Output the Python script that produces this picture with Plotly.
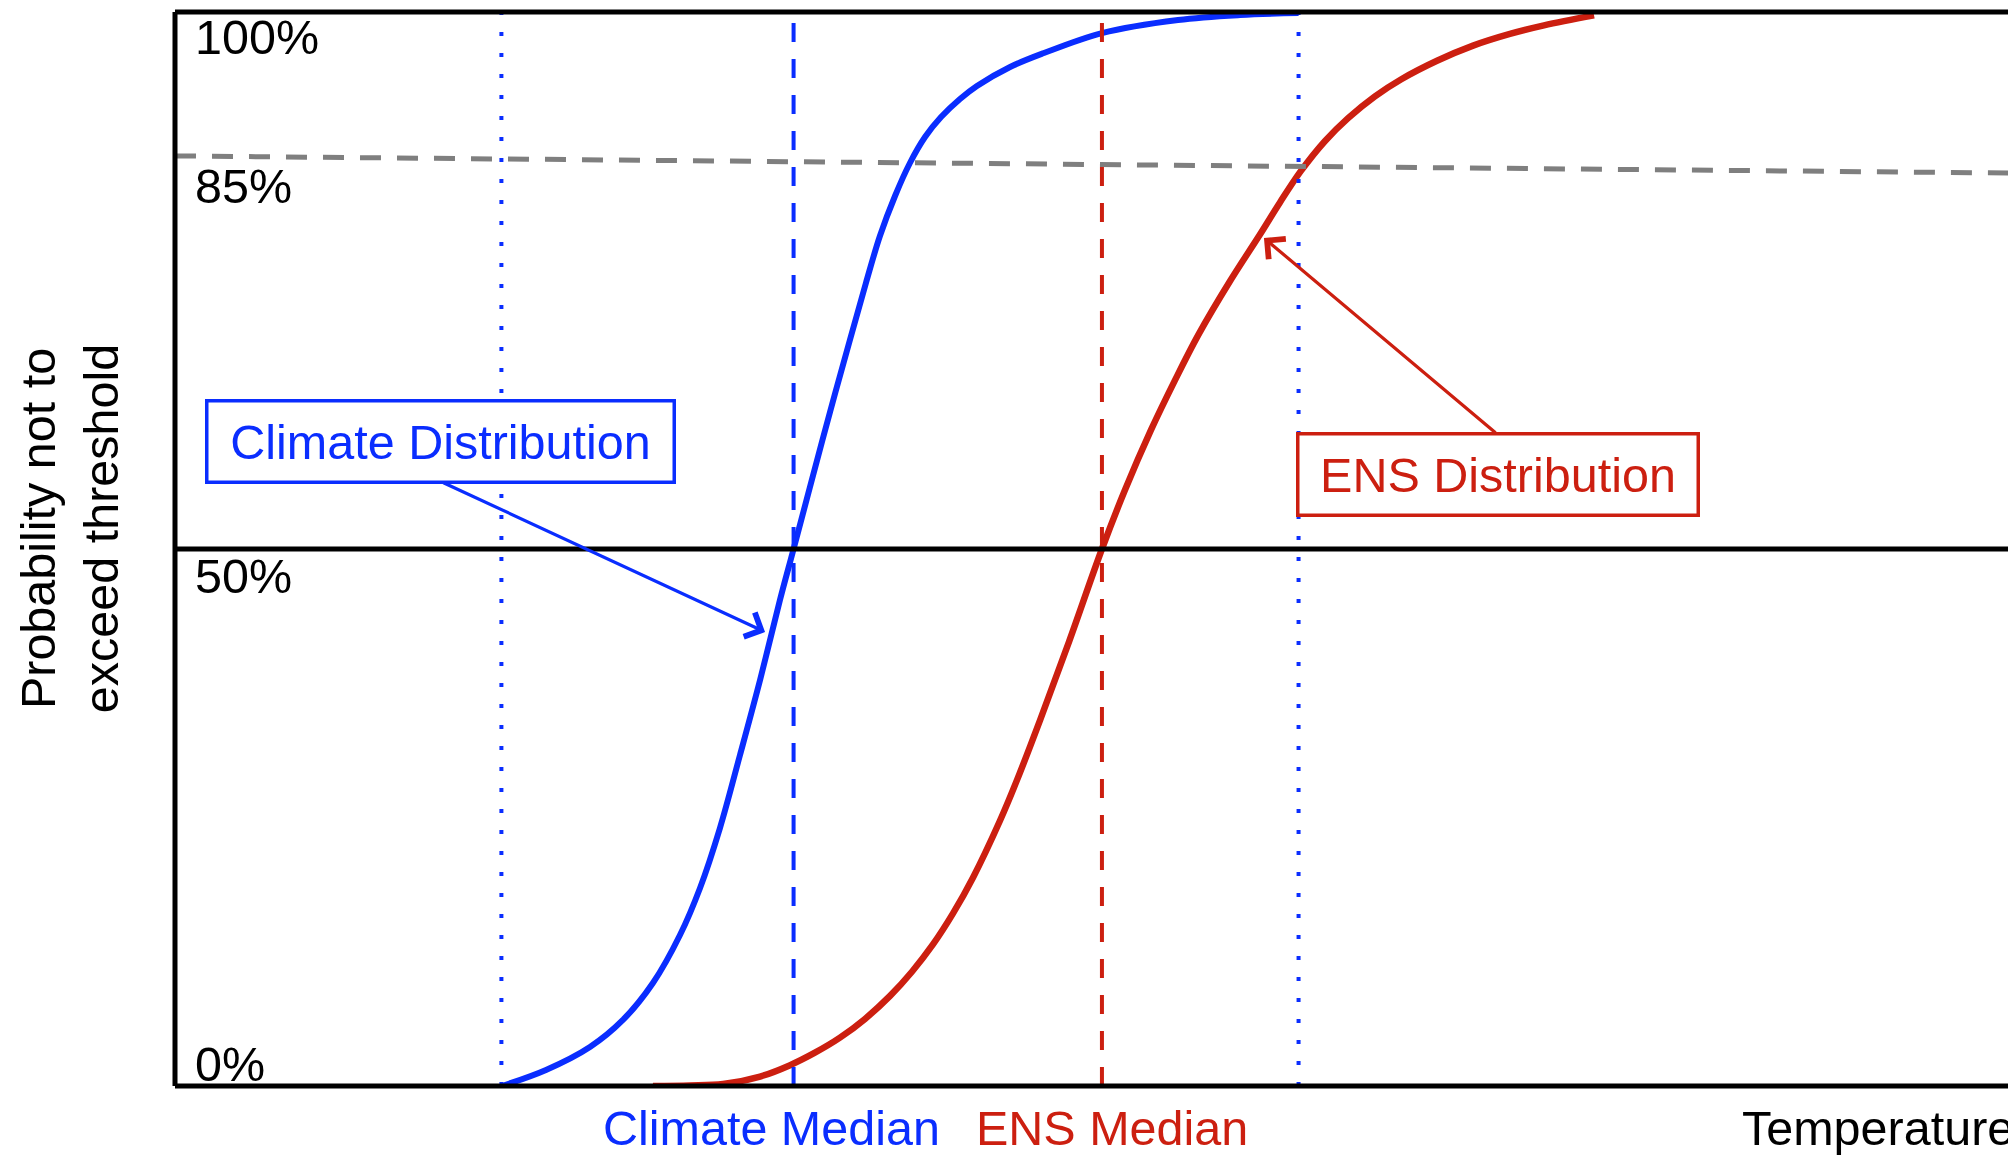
import plotly.graph_objects as go

# ---- data (x: temperature in arbitrary units 0-100, y: cumulative probability %) ----
climate_x = [17.76, 20.15, 22.54, 24.33, 25.96, 27.43, 28.52, 29.60, 30.69, 31.78, 32.86, 33.60,
             34.49, 35.58, 36.66, 37.53, 38.29, 39.11, 39.92, 40.74, 41.61, 42.64, 43.56, 45.36,
             47.20, 50.35, 54.48, 57.85, 61.03]
climate_y = [0.0, 1.49, 3.63, 6.15, 9.59, 14.06, 18.44, 24.02, 30.82, 37.80, 45.25, 50.0,
             55.77, 62.76, 69.46, 74.77, 79.14, 82.87, 85.94, 88.36, 90.22, 91.90, 93.11, 94.88,
             96.18, 98.04, 99.26, 99.72, 99.9]

ens_x = [25.96, 27.97, 29.77, 31.78, 33.41, 34.76, 36.12, 37.48, 38.84, 40.03, 41.17, 42.26,
         43.35, 44.81, 45.74, 46.99, 48.56, 50.35, 51.60, 53.01, 54.32, 55.57, 57.31, 58.88,
         60.02, 61.16, 62.47, 63.72, 65.18, 66.59, 68.55, 70.51, 72.51, 74.36, 77.08]
ens_y = [0.0, 0.05, 0.19, 0.88, 1.94, 3.10, 4.50, 6.25, 8.39, 10.64, 13.18, 16.07,
         19.42, 24.70, 28.50, 34.07, 41.36, 50.0, 55.49, 61.06, 65.72, 69.89, 74.95, 79.14,
         82.27, 85.20, 87.99, 90.12, 92.15, 93.72, 95.46, 96.87, 97.96, 98.76, 99.69]

climate_median = 33.60
ens_median = 50.35
climate_range = [17.73, 61.03]          # dotted bounds of climate distribution
threshold_line = [86.6, 85.0]           # 85% threshold line (left end, right end)

tick_values = [100, 85, 50, 0]
tick_labels = ["100%", "85%", "50%", "0%"]
tick_shift = [-25, -13, -27, 22]

BLUE = "#0a2dff"
RED = "#cc1f10"
FONT = "Liberation Sans, Arial, Helvetica, sans-serif"
FS = 48.5

fig = go.Figure()

# ---- frame and reference lines ----
shapes = []
shapes.append(dict(type="line", xref="x", yref="y", x0=0, x1=100,
                   y0=threshold_line[0], y1=threshold_line[1],
                   line=dict(color="#7f7f7f", width=5, dash="21px,16px")))
for xv in climate_range:
    shapes.append(dict(type="line", xref="x", yref="y", x0=xv, x1=xv, y0=0, y1=100,
                       line=dict(color=BLUE, width=4, dash="4px,17px")))
shapes.append(dict(type="line", xref="x", yref="y", x0=climate_median, x1=climate_median, y0=0, y1=100,
                   line=dict(color=BLUE, width=4, dash="19px,17px")))
shapes.append(dict(type="line", xref="x", yref="y", x0=ens_median, x1=ens_median, y0=0, y1=100,
                   line=dict(color=RED, width=4, dash="19px,17px")))
# black frame (paper refs so the lines are not clipped at the plot edge)
for yv in [0, 0.5, 1]:
    shapes.append(dict(type="line", xref="paper", yref="paper", x0=0, x1=1, y0=yv, y1=yv,
                       line=dict(color="black", width=5)))
shapes.append(dict(type="line", xref="paper", yref="paper", x0=0, x1=0, y0=0, y1=1,
                   line=dict(color="black", width=5)))

# ---- curves ----
fig.add_trace(go.Scatter(x=climate_x, y=climate_y, mode="lines",
                         line=dict(color=BLUE, width=6, shape="spline", smoothing=1.0),
                         hoverinfo="skip", showlegend=False))
fig.add_trace(go.Scatter(x=ens_x, y=ens_y, mode="lines",
                         line=dict(color=RED, width=6.5, shape="spline", smoothing=1.0),
                         hoverinfo="skip", showlegend=False))

annotations = []
for v, t, s in zip(tick_values, tick_labels, tick_shift):
    annotations.append(dict(x=0, y=v, xref="x", yref="y", text=t, showarrow=False,
                            xanchor="left", yanchor="middle", xshift=18, yshift=s,
                            font=dict(family=FONT, size=FS, color="black")))
annotations.append(dict(x=-0.0575, y=0.5186, xref="paper", yref="paper",
                        text="Probability not to<br>exceed threshold", textangle=-90,
                        showarrow=False, xanchor="center", yanchor="middle",
                        font=dict(family=FONT, size=FS, color="black")))
annotations.append(dict(x=climate_median, y=0, xref="x", yref="paper", text="Climate Median",
                        showarrow=False, xanchor="center", yanchor="middle", xshift=-22, yshift=-42,
                        font=dict(family=FONT, size=FS, color=BLUE)))
annotations.append(dict(x=ens_median, y=0, xref="x", yref="paper", text="ENS Median",
                        showarrow=False, xanchor="center", yanchor="middle", xshift=10, yshift=-42,
                        font=dict(family=FONT, size=FS, color=RED)))
annotations.append(dict(x=1, y=0, xref="paper", yref="paper", text="Temperature",
                        showarrow=False, xanchor="right", yanchor="middle", yshift=-42,
                        font=dict(family=FONT, size=FS, color="black")))
annotations.append(dict(x=32.05, y=42.27, ax=14.50, ay=56.24, xref="x", yref="y",
                        axref="x", ayref="y", text="", showarrow=True,
                        arrowhead=4, arrowsize=1.6, arrowwidth=3.2, arrowcolor=BLUE))
annotations.append(dict(x=59.15, y=78.96, ax=71.81, ay=60.71, xref="x", yref="y",
                        axref="x", ayref="y", text="", showarrow=True,
                        arrowhead=4, arrowsize=1.6, arrowwidth=3.2, arrowcolor=RED))
annotations.append(dict(x=14.44, y=60.02, xref="x", yref="y", text="Climate Distribution",
                        showarrow=False, xanchor="center", yanchor="middle",
                        width=460, height=74, borderpad=2, borderwidth=3.5,
                        bordercolor=BLUE, bgcolor="white",
                        font=dict(family=FONT, size=FS, color=BLUE)))
annotations.append(dict(x=71.87, y=56.94, xref="x", yref="y", text="ENS Distribution",
                        showarrow=False, xanchor="center", yanchor="middle",
                        width=393, height=74, borderpad=2, borderwidth=3.5,
                        bordercolor=RED, bgcolor="white",
                        font=dict(family=FONT, size=FS, color=RED)))

# page body has an 8px default margin: size the figure so the plot lands where the reference has it
fig.update_layout(
    width=2008, height=1147,
    margin=dict(l=167, r=0, t=4, b=69),
    paper_bgcolor="white", plot_bgcolor="white",
    xaxis=dict(range=[0, 100], visible=False, fixedrange=True),
    yaxis=dict(range=[0, 100], visible=False, fixedrange=True),
    shapes=shapes, annotations=annotations, showlegend=False,
)

fig.write_html("out.html")
